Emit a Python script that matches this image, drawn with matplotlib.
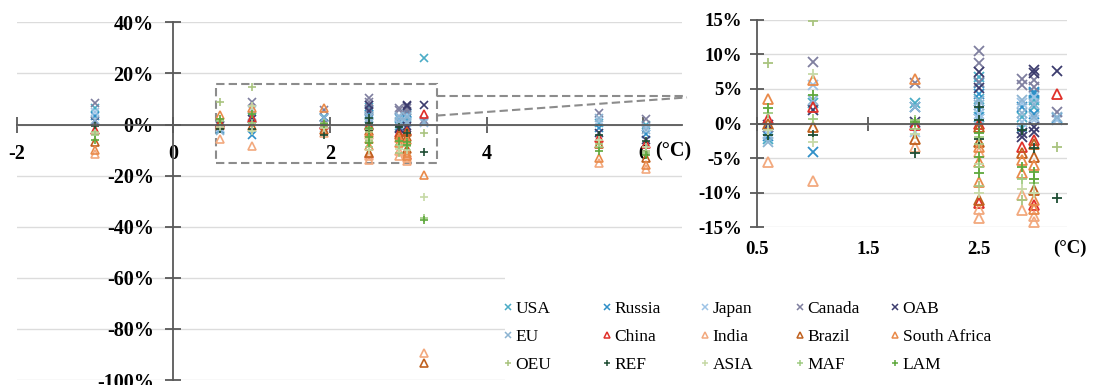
import matplotlib
matplotlib.use("Agg")
import matplotlib.pyplot as plt
from matplotlib.lines import Line2D
from matplotlib.patches import Rectangle

plt.rcParams['font.family'] = ['Liberation Serif', 'DejaVu Serif']

# ---- data: temperature rise (°C) and change (%) for each region ----
regions = ["USA", "Russia", "Japan", "Canada", "OAB",
           "EU", "China", "India", "Brazil", "South Africa",
           "OEU", "REF", "ASIA", "MAF", "LAM"]

usa_t = [-1.0, 0.6, 1.0, 1.92, 2.5, 2.5, 2.5, 2.88, 2.88, 2.99, 2.99, 2.99, 3.2, 5.43, 6.04]
usa_v = [6.5, -2.2, 3.0, 2.9, 6.7, 3.6, 1.0, 1.0, -0.7, 3.4, 2.4, 4.2, 26.0, 0.6, 0.0]

russia_t = [-1.0, 0.6, 1.0, 1.92, 2.5, 2.5, 2.5, 2.88, 2.99, 2.99, 2.99, 3.2, 5.43, 6.04]
russia_v = [3.2, -1.8, -4.1, 2.4, 5.8, 4.3, 2.0, 2.4, 4.6, 4.4, 1.4, 0.8, -1.3, -3.9]

japan_t = [-1.0, 0.6, 1.0, 1.92, 2.5, 2.5, 2.88, 2.88, 2.99, 2.99, 3.2, 5.43, 6.04]
japan_v = [4.8, -1.5, 5.5, -1.2, 1.4, 0.7, 0.2, 3.0, 0.5, 3.8, 0.5, 1.5, -1.0]

canada_t = [-1.0, 0.6, 1.0, 1.92, 2.5, 2.5, 2.5, 2.88, 2.88, 2.99, 2.99, 3.2, 5.43, 6.04]
canada_v = [8.5, -0.5, 8.9, 5.8, 10.5, 8.7, 6.0, 6.5, 5.5, 6.3, 5.3, 1.7, 4.6, 2.2]

oab_t = [-1.0, 0.6, 1.0, 1.92, 2.5, 2.5, 2.88, 2.88, 2.99, 2.99, 2.99, 2.99, 3.2, 5.43, 6.04]
oab_v = [1.3, -0.2, 2.0, 0.2, 7.5, 5.1, -1.4, -1.9, 7.7, 7.3, -0.5, -1.2, 7.6, -3.3, -5.9]

eu_t = [-1.0, 0.6, 1.0, 1.92, 2.5, 2.5, 2.88, 2.88, 2.99, 2.99, 3.2, 5.43, 6.04]
eu_v = [1.7, -2.7, 3.4, 2.4, 3.2, 2.7, 3.4, 1.5, 1.0, 2.8, 1.0, 2.6, -2.0]

china_t = [-1.0, 0.6, 1.0, 1.92, 2.5, 2.5, 2.88, 2.99, 2.99, 3.2, 5.43, 6.04]
china_v = [-2.0, 0.7, 2.4, -0.2, 0.0, -11.5, -3.4, -2.4, -11.8, 4.3, -5.2, -7.8]

india_t = [-1.0, 0.6, 1.0, 1.92, 2.5, 2.5, 2.5, 2.88, 2.88, 2.99, 2.99, 3.2, 5.43, 6.04]
india_v = [-11.5, -5.5, -8.3, -3.4, -4.1, -12.3, -13.7, -10.4, -12.5, -13.3, -14.2, -89.5, -15.0, -17.6]

brazil_t = [-1.0, 0.6, 1.0, 1.92, 2.5, 2.5, 2.5, 2.88, 2.99, 2.99, 2.99, 3.2, 5.43, 6.04]
brazil_v = [-7.0, 0.0, -0.5, -2.2, -0.5, -2.7, -11.1, -4.3, -2.9, -4.8, -9.6, -93.2, -7.8, -13.0]

safrica_t = [-1.0, 0.6, 1.0, 1.92, 2.5, 2.5, 2.5, 2.88, 2.88, 2.99, 2.99, 2.99, 3.2, 5.43, 6.04]
safrica_v = [-9.8, 3.6, 6.3, 6.5, -3.4, -8.4, -5.5, -5.3, -7.2, -6.0, -11.1, -12.3, -19.6, -13.0, -15.7]

oeu_t = [-1.0, 0.6, 1.0, 1.92, 2.5, 2.5, 2.88, 2.99, 3.2, 5.43, 6.04]
oeu_v = [-3.0, 8.8, 14.8, -0.8, -3.0, -9.0, -11.1, -8.0, -3.4, -7.5, -10.5]

ref_t = [-1.0, 0.6, 1.0, 1.92, 2.5, 2.5, 2.5, 2.88, 2.99, 3.2, 5.43, 6.04]
ref_v = [-0.7, -1.7, -1.7, -4.3, 2.4, 0.5, -2.2, -1.0, -3.5, -10.8, -4.0, -6.5]

asia_t = [-1.0, 0.6, 1.0, 1.0, 1.92, 2.5, 2.5, 2.88, 2.99, 3.2, 5.43, 6.04]
asia_v = [-3.5, -1.0, 7.2, -2.7, -1.5, -10.1, -5.8, -9.4, -10.1, -28.5, -6.0, -9.0]

maf_t = [-1.0, 0.6, 1.0, 1.92, 2.5, 2.5, 2.88, 2.99, 3.2, 5.43, 6.04]
maf_v = [-4.0, 1.5, 0.7, 0.5, -1.9, -6.3, -8.0, -8.6, -36.5, -9.0, -11.0]

lam_t = [-1.0, 0.6, 1.0, 1.92, 2.5, 2.5, 2.5, 2.88, 2.99, 2.99, 3.2, 5.43, 6.04]
lam_v = [-5.9, 2.2, 4.1, 0.2, -1.4, -4.8, -7.2, -6.3, -7.0, -8.0, -37.3, -10.5, -12.0]

series_t = [usa_t, russia_t, japan_t, canada_t, oab_t, eu_t, china_t, india_t,
            brazil_t, safrica_t, oeu_t, ref_t, asia_t, maf_t, lam_t]
series_v = [usa_v, russia_v, japan_v, canada_v, oab_v, eu_v, china_v, india_v,
            brazil_v, safrica_v, oeu_v, ref_v, asia_v, maf_v, lam_v]

# ---- styles ----
markers = ["x"] * 6 + ["^"] * 4 + ["+"] * 5
colors = ["#4BACC6", "#2F8FC8", "#9DC3E6", "#7F7F9F", "#3C3C6E",
          "#8DB4D2", "#E0302A", "#F2A97E", "#C0601E", "#E98A4A",
          "#A9C47F", "#1E4D33", "#C6D9A6", "#9FCB82", "#5EA83C"]
fills = ["none" if m == "^" else None for m in markers]

AXIS_C = "#595959"
GRID_C = "#DCDCDC"
BOX_C = "#8C8C8C"

W, H = 1093, 385
fig = plt.figure(figsize=(W / 100, H / 100), dpi=100)

# ---- main panel ----
ax = fig.add_axes([16.7 / W, 5 / H, 665.6 / W, 357.7 / H])
ax.set_xlim(-2, 6.5)
ax.set_ylim(-100, 40)
for sp in ("top", "right"):
    ax.spines[sp].set_visible(False)
ax.spines["left"].set_position(("data", 0))
ax.spines["bottom"].set_position(("data", 0))
for sp in ("left", "bottom"):
    ax.spines[sp].set_color(AXIS_C)
    ax.spines[sp].set_linewidth(1.3)
ax.set_yticks(range(-100, 41, 20))
ax.set_yticklabels([f"{v}%" for v in range(-100, 41, 20)],
                   fontsize=14.5, fontweight="bold")
ax.set_xticks([-2, 0, 2, 4, 6])
ax.set_xticklabels(["-2", "0", "2", "4", "6"], fontsize=14.5, fontweight="bold")
ax.tick_params(axis="both", direction="inout", length=12, width=1.3, color=AXIS_C)
ax.tick_params(axis="x", pad=8)
ax.tick_params(axis="y", pad=8)
ax.yaxis.grid(True, color=GRID_C, linewidth=1.0)
ax.set_axisbelow(True)

for t, v, m, c, f in zip(series_t, series_v, markers, colors, fills):
    kw = dict(linestyle="none", marker=m, color=c, markersize=5.5,
              markeredgewidth=1.2, clip_on=False)
    if f:
        kw["markerfacecolor"] = f
    ax.plot(t, v, **kw)

ax.text(6.39, -6.5, "(°C)", fontsize=14.5, fontweight="bold",
        ha="center", va="top")

# zoom-region outline and connectors
ax.add_patch(Rectangle((0.54, -15), 2.83, 31, fill=False, edgecolor=BOX_C,
                       linestyle=(0, (4, 2)), linewidth=1.5, zorder=1))
ax.plot([3.37, 6.56], [11.1, 11.1], color=BOX_C, linestyle=(0, (4, 2)),
        linewidth=1.5, clip_on=False, zorder=1)
ax.plot([3.37, 6.56], [3.5, 10.6], color=BOX_C, linestyle=(0, (4, 2)),
        linewidth=1.5, clip_on=False, zorder=1)

# ---- inset panel ----
ax2 = fig.add_axes([757.3 / W, (H - 227.3) / H, 309.4 / W, 207.6 / H])
ax2.set_xlim(0.5, 3.287)
ax2.set_ylim(-15, 15)
for sp in ("top", "right"):
    ax2.spines[sp].set_visible(False)
ax2.spines["bottom"].set_position(("data", 0))
for sp in ("left", "bottom"):
    ax2.spines[sp].set_color(AXIS_C)
    ax2.spines[sp].set_linewidth(1.3)
ax2.set_yticks(range(-15, 16, 5))
ax2.set_yticklabels([f"{v}%" for v in range(-15, 16, 5)],
                    fontsize=13.5, fontweight="bold")
ax2.set_xticks([0.5, 1.5, 2.5])
ax2.tick_params(axis="x", labelbottom=False, direction="inout", length=10,
                width=1.3, color=AXIS_C)
ax2.tick_params(axis="y", direction="inout", length=10, width=1.3,
                color=AXIS_C, pad=6)
ax2.yaxis.grid(True, color=GRID_C, linewidth=1.0)
ax2.set_axisbelow(True)

sec = ax2.secondary_xaxis(0.0)
sec.set_xticks([0.5, 1.5, 2.5])
sec.set_xticklabels(["0.5", "1.5", "2.5"], fontsize=13.5, fontweight="bold")
sec.tick_params(length=0, pad=10)
sec.spines["bottom"].set_visible(False)

for t, v, m, c, f in zip(series_t, series_v, markers, colors, fills):
    kw = dict(linestyle="none", marker=m, color=c, markersize=6.5,
              markeredgewidth=1.3)
    if f:
        kw["markerfacecolor"] = f
    ax2.plot(t, v, **kw)

fig.text(1070 / W, (H - 248) / H, "(°C)", fontsize=13.5, fontweight="bold",
         ha="center", va="center")

# ---- legend area ----
fig.add_artist(Rectangle((505 / W, 0), (W - 505) / W, (H - 262) / H,
                         transform=fig.transFigure, facecolor="white",
                         edgecolor="none", zorder=1))

col_x = [508, 607, 705, 800, 895]
for c in range(5):
    handles, labels = [], []
    for r in range(3):
        k = r * 5 + c
        kw = dict(linestyle="none", marker=markers[k], color=colors[k],
                  markersize=5, markeredgewidth=1.1)
        if fills[k]:
            kw["markerfacecolor"] = fills[k]
        handles.append(Line2D([], [], **kw))
        labels.append(regions[k])
    fig.legend(handles, labels, loc="upper left",
               bbox_to_anchor=((col_x[c] - 5.8) / W, (H - 301) / H),
               frameon=False, borderpad=0, borderaxespad=0,
               handlelength=0.7, handletextpad=0.08, labelspacing=0.68,
               prop={"family": "Liberation Serif", "size": 12.5})

fig.savefig("out.png", dpi=100)
